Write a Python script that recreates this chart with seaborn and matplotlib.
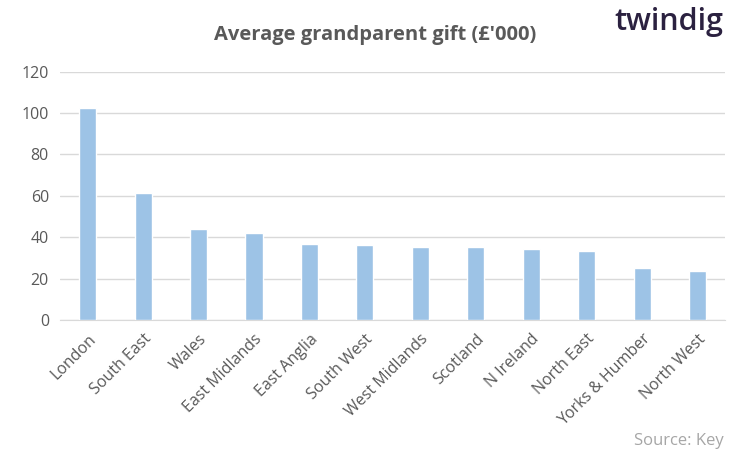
import pandas as pd
import matplotlib.pyplot as plt
import seaborn as sns

regions = ["London", "South East", "Wales", "East Midlands", "East Anglia",
           "South West", "West Midlands", "Scotland", "N Ireland", "North East",
           "Yorks & Humber", "North West"]
gift = [102.5, 61.5, 44, 42, 36.8, 36.3, 35.3, 35.3, 34.3, 33.4, 25.2, 23.7]

df = pd.DataFrame({"Region": regions, "Gift": gift})

sns.set_style("white")
plt.rcParams['font.family'] = ['Open Sans', 'DejaVu Sans']

fig = plt.figure(figsize=(7.5, 4.63), dpi=100)
ax = fig.add_axes([0.08, 0.309, 0.887, 0.536])

sns.barplot(data=df, x="Region", y="Gift", color="#9DC3E6", width=0.31,
            saturation=1, ax=ax, zorder=3)

ax.set_ylim(0, 120)
ax.set_yticks(range(0, 121, 20))
ax.yaxis.grid(True, color="#D9D9D9", linewidth=1, zorder=0)
ax.set_xlabel("")
ax.set_ylabel("")
for s in ["top", "right", "left"]:
    ax.spines[s].set_visible(False)
ax.spines["bottom"].set_color("#D9D9D9")
ax.tick_params(axis="both", length=0, labelsize=11.5, colors="#595959", pad=8)
plt.setp(ax.get_xticklabels(), rotation=45, ha="right", rotation_mode="anchor")

fig.text(0.5, 0.925, "Average grandparent gift (£'000)", ha="center", va="center",
         fontsize=14.5, fontweight="bold", color="#595959")
fig.text(0.965, 0.952, "twindig", ha="right", va="center", fontsize=22,
         fontweight="semibold", color="#2B2140")
fig.text(0.965, 0.048, "Source: Key", ha="right", va="center", fontsize=12,
         color="#A6A6A6")

fig.savefig("out.png", dpi=100)
